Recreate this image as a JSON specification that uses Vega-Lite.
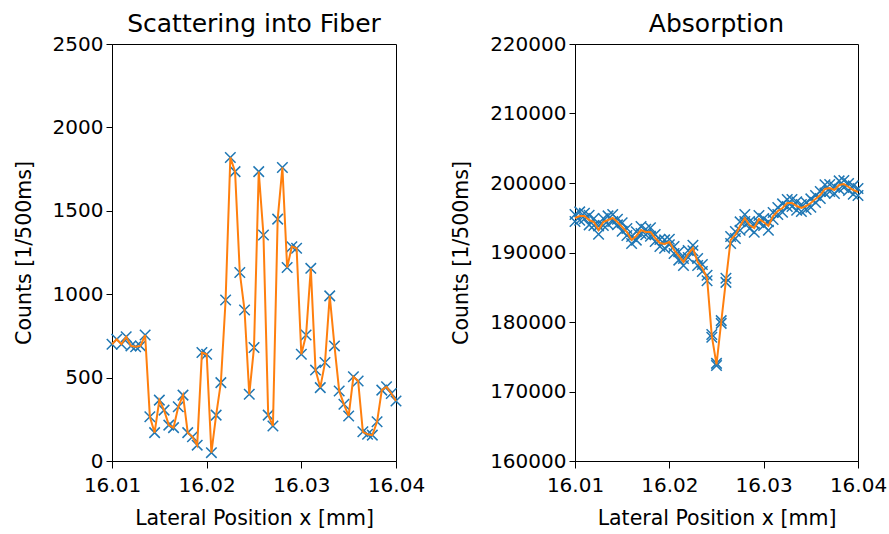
{
  "$schema": "https://vega.github.io/schema/vega-lite/v6.json",
  "background": "white",
  "padding": {"left": 13, "top": 11, "right": 2, "bottom": 5},
  "spacing": 25,
  "config": {
    "font": "DejaVu Sans",
    "view": {"stroke": "black", "strokeWidth": 1},
    "axis": {"domainColor": "black", "tickColor": "black", "labelColor": "black", "titleColor": "black", "tickSize": 6, "labelPadding": 3, "labelFontSize": 20, "titleFontSize": 20.5, "titleFontWeight": "normal", "grid": false, "labelFont": "DejaVu Sans", "titleFont": "DejaVu Sans", "labelFlush": false, "labelOverlap": false},
    "axisX": {"tickSize": 7, "labelPadding": 7},
    "title": {"fontSize": 25, "fontWeight": "normal", "font": "DejaVu Sans", "color": "black", "offset": -3, "anchor": "middle", "frame": "group"}
  },
  "datasets": {
    "scatter": [
      {"x": 16.0100, "c": 700}, {"x": 16.0105, "c": 730}, {"x": 16.0110, "c": 700}, {"x": 16.0115, "c": 745},
      {"x": 16.0120, "c": 690}, {"x": 16.0125, "c": 685}, {"x": 16.0130, "c": 690}, {"x": 16.0135, "c": 755},
      {"x": 16.0140, "c": 265}, {"x": 16.0145, "c": 170}, {"x": 16.0150, "c": 365}, {"x": 16.0155, "c": 305},
      {"x": 16.0160, "c": 215}, {"x": 16.0165, "c": 200}, {"x": 16.0170, "c": 325}, {"x": 16.0175, "c": 395},
      {"x": 16.0180, "c": 170}, {"x": 16.0185, "c": 145}, {"x": 16.0190, "c": 95}, {"x": 16.0195, "c": 650},
      {"x": 16.0200, "c": 640}, {"x": 16.0205, "c": 50}, {"x": 16.0210, "c": 275}, {"x": 16.0215, "c": 470},
      {"x": 16.0220, "c": 965}, {"x": 16.0225, "c": 1820}, {"x": 16.0230, "c": 1735}, {"x": 16.0235, "c": 1130},
      {"x": 16.0240, "c": 905}, {"x": 16.0245, "c": 400}, {"x": 16.0250, "c": 680}, {"x": 16.0255, "c": 1735},
      {"x": 16.0260, "c": 1355}, {"x": 16.0265, "c": 275}, {"x": 16.0270, "c": 210}, {"x": 16.0275, "c": 1450},
      {"x": 16.0280, "c": 1760}, {"x": 16.0285, "c": 1160}, {"x": 16.0290, "c": 1285}, {"x": 16.0295, "c": 1275},
      {"x": 16.0300, "c": 640}, {"x": 16.0305, "c": 755}, {"x": 16.0310, "c": 1155}, {"x": 16.0315, "c": 545},
      {"x": 16.0320, "c": 440}, {"x": 16.0325, "c": 590}, {"x": 16.0330, "c": 990}, {"x": 16.0335, "c": 690},
      {"x": 16.0340, "c": 420}, {"x": 16.0345, "c": 340}, {"x": 16.0350, "c": 270}, {"x": 16.0355, "c": 505},
      {"x": 16.0360, "c": 480}, {"x": 16.0365, "c": 175}, {"x": 16.0370, "c": 160}, {"x": 16.0375, "c": 155},
      {"x": 16.0380, "c": 235}, {"x": 16.0385, "c": 425}, {"x": 16.0390, "c": 445}, {"x": 16.0395, "c": 405},
      {"x": 16.0400, "c": 360}
    ],
    "absorb": [
      {"x": 16.0100, "c": 195460}, {"x": 16.0100, "c": 194460},
      {"x": 16.0105, "c": 194650}, {"x": 16.0105, "c": 195850},
      {"x": 16.0110, "c": 195650}, {"x": 16.0110, "c": 194850},
      {"x": 16.0115, "c": 193970}, {"x": 16.0115, "c": 195370},
      {"x": 16.0120, "c": 194880}, {"x": 16.0120, "c": 193880},
      {"x": 16.0125, "c": 192630}, {"x": 16.0125, "c": 193830},
      {"x": 16.0130, "c": 194880}, {"x": 16.0130, "c": 193880},
      {"x": 16.0135, "c": 194070}, {"x": 16.0135, "c": 195270},
      {"x": 16.0140, "c": 195460}, {"x": 16.0140, "c": 194460},
      {"x": 16.0145, "c": 193980}, {"x": 16.0145, "c": 194780},
      {"x": 16.0150, "c": 194270}, {"x": 16.0150, "c": 193070},
      {"x": 16.0155, "c": 192450}, {"x": 16.0155, "c": 193450},
      {"x": 16.0160, "c": 192300}, {"x": 16.0160, "c": 191300},
      {"x": 16.0165, "c": 191780}, {"x": 16.0165, "c": 192980},
      {"x": 16.0170, "c": 193730}, {"x": 16.0170, "c": 192730},
      {"x": 16.0175, "c": 192550}, {"x": 16.0175, "c": 193350},
      {"x": 16.0180, "c": 193550}, {"x": 16.0180, "c": 192350},
      {"x": 16.0185, "c": 191590}, {"x": 16.0185, "c": 192590},
      {"x": 16.0190, "c": 191860}, {"x": 16.0190, "c": 190860},
      {"x": 16.0195, "c": 190620}, {"x": 16.0195, "c": 191820},
      {"x": 16.0200, "c": 191910}, {"x": 16.0200, "c": 191110},
      {"x": 16.0205, "c": 189860}, {"x": 16.0205, "c": 190860},
      {"x": 16.0210, "c": 190100}, {"x": 16.0210, "c": 188900},
      {"x": 16.0215, "c": 188130}, {"x": 16.0215, "c": 189130},
      {"x": 16.0220, "c": 190290}, {"x": 16.0220, "c": 189290},
      {"x": 16.0225, "c": 190240}, {"x": 16.0225, "c": 191040},
      {"x": 16.0230, "c": 189130}, {"x": 16.0230, "c": 188130},
      {"x": 16.0235, "c": 187270}, {"x": 16.0235, "c": 188270},
      {"x": 16.0240, "c": 186730}, {"x": 16.0240, "c": 185930},
      {"x": 16.0245, "c": 177800}, {"x": 16.0245, "c": 178200},
      {"x": 16.0250, "c": 174050}, {"x": 16.0250, "c": 173750},
      {"x": 16.0255, "c": 179800}, {"x": 16.0255, "c": 180200},
      {"x": 16.0260, "c": 186300}, {"x": 16.0260, "c": 185700},
      {"x": 16.0265, "c": 191300}, {"x": 16.0265, "c": 192300},
      {"x": 16.0270, "c": 193020}, {"x": 16.0270, "c": 192020},
      {"x": 16.0275, "c": 193210}, {"x": 16.0275, "c": 194410},
      {"x": 16.0280, "c": 195460}, {"x": 16.0280, "c": 194460},
      {"x": 16.0285, "c": 193450}, {"x": 16.0285, "c": 194450},
      {"x": 16.0290, "c": 194120}, {"x": 16.0290, "c": 192920},
      {"x": 16.0295, "c": 195320}, {"x": 16.0295, "c": 194320},
      {"x": 16.0300, "c": 193880}, {"x": 16.0300, "c": 194880},
      {"x": 16.0305, "c": 194410}, {"x": 16.0305, "c": 193210},
      {"x": 16.0310, "c": 195750}, {"x": 16.0310, "c": 194750},
      {"x": 16.0315, "c": 195470}, {"x": 16.0315, "c": 196470},
      {"x": 16.0320, "c": 197000}, {"x": 16.0320, "c": 195800},
      {"x": 16.0325, "c": 197620}, {"x": 16.0325, "c": 196620},
      {"x": 16.0330, "c": 196620}, {"x": 16.0330, "c": 197620},
      {"x": 16.0335, "c": 197290}, {"x": 16.0335, "c": 196090},
      {"x": 16.0340, "c": 196900}, {"x": 16.0340, "c": 195900},
      {"x": 16.0345, "c": 196190}, {"x": 16.0345, "c": 197190},
      {"x": 16.0350, "c": 197720}, {"x": 16.0350, "c": 196520},
      {"x": 16.0355, "c": 198200}, {"x": 16.0355, "c": 197200},
      {"x": 16.0360, "c": 197770}, {"x": 16.0360, "c": 198770},
      {"x": 16.0365, "c": 199740}, {"x": 16.0365, "c": 198540},
      {"x": 16.0370, "c": 199780}, {"x": 16.0370, "c": 198780},
      {"x": 16.0375, "c": 198490}, {"x": 16.0375, "c": 199490},
      {"x": 16.0380, "c": 200310}, {"x": 16.0380, "c": 199110},
      {"x": 16.0385, "c": 200360}, {"x": 16.0385, "c": 199360},
      {"x": 16.0390, "c": 198920}, {"x": 16.0390, "c": 199920},
      {"x": 16.0395, "c": 199590}, {"x": 16.0395, "c": 198390},
      {"x": 16.0400, "c": 199200}, {"x": 16.0400, "c": 198200}
    ]
  },
  "hconcat": [
    {
      "title": "Scattering into Fiber",
      "width": 284,
      "height": 417,
      "data": {"name": "scatter"},
      "encoding": {
        "x": {"field": "x", "type": "quantitative", "scale": {"domain": [16.01, 16.04]}, "axis": {"values": [16.01, 16.02, 16.03, 16.04], "format": ".2f", "title": "Lateral Position x [mm]", "titlePadding": 13}},
        "y": {"field": "c", "type": "quantitative", "scale": {"domain": [0, 2500]}, "axis": {"values": [0, 500, 1000, 1500, 2000, 2500], "format": "d", "title": "Counts [1/500ms]", "titlePadding": 18}}
      },
      "layer": [
        {"mark": {"type": "point", "shape": "M-1,-1L1,1M-1,1L1,-1", "filled": false, "color": "#1f77b4", "strokeWidth": 1.5, "size": 110, "opacity": 1}},
        {"mark": {"type": "line", "color": "#ff7f0e", "strokeWidth": 2}}
      ]
    },
    {
      "title": "Absorption",
      "width": 283,
      "height": 417,
      "data": {"name": "absorb"},
      "encoding": {
        "x": {"field": "x", "type": "quantitative", "scale": {"domain": [16.01, 16.04]}, "axis": {"values": [16.01, 16.02, 16.03, 16.04], "format": ".2f", "title": "Lateral Position x [mm]", "titlePadding": 13}}
      },
      "layer": [
        {"mark": {"type": "point", "shape": "M-1,-1L1,1M-1,1L1,-1", "filled": false, "color": "#1f77b4", "strokeWidth": 1.5, "size": 110, "opacity": 1},
         "encoding": {"y": {"field": "c", "type": "quantitative", "scale": {"domain": [160000, 220000]}, "axis": {"values": [160000, 170000, 180000, 190000, 200000, 210000, 220000], "format": "d", "title": "Counts [1/500ms]", "titlePadding": 18}}}},
        {"mark": {"type": "line", "color": "#ff7f0e", "strokeWidth": 2},
         "encoding": {"y": {"aggregate": "mean", "field": "c", "type": "quantitative"}}}
      ]
    }
  ]
}
